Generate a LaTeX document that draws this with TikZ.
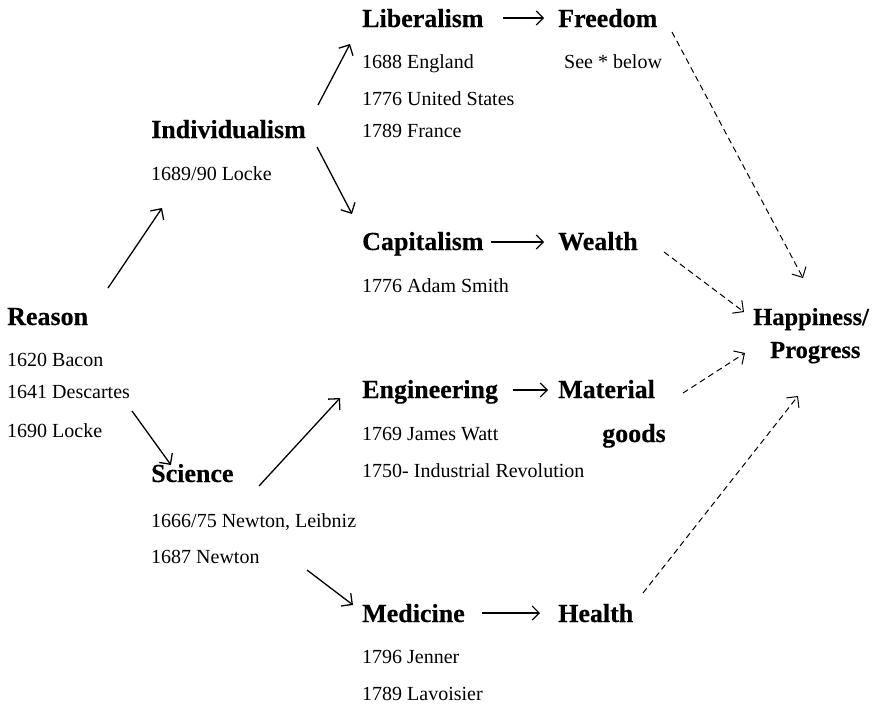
\documentclass[tikz,border=0pt]{standalone}
\usepackage{fontspec}
\setmainfont{Liberation Serif}
\newfontfamily\headfont{Liberation Serif}[UprightFont={* Bold}, FakeBold=0.4]
\usetikzlibrary{arrows.meta}
\tikzset{
  head/.style={font=\fontsize{26}{30}\selectfont\headfont, inner sep=0pt, anchor=base west},
  endhead/.style={font=\fontsize{24.5}{28}\selectfont\headfont, inner sep=0pt, anchor=base west},
  note/.style={font=\fontsize{20}{24}\selectfont, inner sep=0pt, anchor=base west},
  solidarrow/.style={line width=1.3pt, -{Straight Barb[length=8pt,width=16pt]}},
  flowarrow/.style={line width=1.1pt, -{Straight Barb[length=7pt,width=14pt]}},
  dasharrow/.style={line width=1pt, dash pattern=on 6pt off 4pt, -{Straight Barb[length=8pt,width=16pt]}},
}
\begin{document}
\begin{tikzpicture}[x=1pt,y=-1pt]
\useasboundingbox (0,0) rectangle (875,707);
% Reason
\node[head] (reason) at (7,325) {Reason};
\node[note] (r1) at (7,366) {1620 Bacon};
\node[note] (r2) at (7,398) {1641 Descartes};
\node[note] (r3) at (7,437) {1690 Locke};
% Individualism
\node[head] (indiv) at (151,138) {Individualism};
\node[note] (i1) at (151,180) {1689/90 Locke};
% Liberalism
\node[head] (lib) at (362,27) {Liberalism};
\node[note] (l1) at (362,68) {1688 England};
\node[note] (l2) at (362,105) {1776 United States};
\node[note] (l3) at (362,137) {1789 France};
\node[head] (free) at (558,27) {Freedom};
\node[note] (f1) at (564,68) {See * below};
% Capitalism
\node[head] (cap) at (362,250) {Capitalism};
\node[note] (c1) at (362,292) {1776 Adam Smith};
\node[head] (wealth) at (558,250) {Wealth};
% Happiness
\node[endhead] (happy) at (753,325) {Happiness/};
\node[endhead] (prog) at (770,358) {Progress};
% Science
\node[head] (sci) at (151,482) {Science};
\node[note] (s1) at (151,527) {1666/75 Newton, Leibniz};
\node[note] (s2) at (151,563) {1687 Newton};
% Engineering
\node[head] (eng) at (362,398) {Engineering};
\node[note] (e1) at (362,440) {1769 James Watt};
\node[note] (e2) at (362,477) {1750- Industrial Revolution};
\node[head] (mat) at (558,398) {Material};
\node[head] (goods) at (602,442) {goods};
% Medicine
\node[head] (med) at (362,622) {Medicine};
\node[note] (m1) at (362,663) {1796 Jenner};
\node[note] (m2) at (362,700) {1789 Lavoisier};
\node[head] (health) at (558,622) {Health};

% arrow end points
\coordinate (aRs) at (108,288); \coordinate (aRe) at (162,208);
\coordinate (aRSs) at (132,411); \coordinate (aRSe) at (171,465);
\coordinate (aILs) at (318,105); \coordinate (aILe) at (350,44);
\coordinate (aICs) at (317,147); \coordinate (aICe) at (352,214);
\coordinate (aSEs) at (259,486); \coordinate (aSEe) at (340,398);
\coordinate (aSMs) at (307,570); \coordinate (aSMe) at (353,605);
\coordinate (hLs) at (503,18); \coordinate (hLe) at (544,18);
\coordinate (hCs) at (491,242); \coordinate (hCe) at (544,242);
\coordinate (hEs) at (513,390); \coordinate (hEe) at (548,390);
\coordinate (hMs) at (482,613); \coordinate (hMe) at (540,613);
\coordinate (dFs) at (672,32); \coordinate (dFe) at (803,278);
\coordinate (dWs) at (664,252); \coordinate (dWe) at (744,312);
\coordinate (dMs) at (683,393); \coordinate (dMe) at (745,353);
\coordinate (dHs) at (643,593); \coordinate (dHe) at (798,396);

\draw[solidarrow] (aRs) -- (aRe);
\draw[solidarrow] (aRSs) -- (aRSe);
\draw[solidarrow] (aILs) -- (aILe);
\draw[solidarrow] (aICs) -- (aICe);
\draw[solidarrow] (aSEs) -- (aSEe);
\draw[solidarrow] (aSMs) -- (aSMe);
\draw[flowarrow] (hLs) -- (hLe);
\draw[flowarrow] (hCs) -- (hCe);
\draw[flowarrow] (hEs) -- (hEe);
\draw[flowarrow] (hMs) -- (hMe);
\draw[dasharrow] (dFs) -- (dFe);
\draw[dasharrow] (dWs) -- (dWe);
\draw[dasharrow] (dMs) -- (dMe);
\draw[dasharrow] (dHs) -- (dHe);
\end{tikzpicture}
\end{document}
